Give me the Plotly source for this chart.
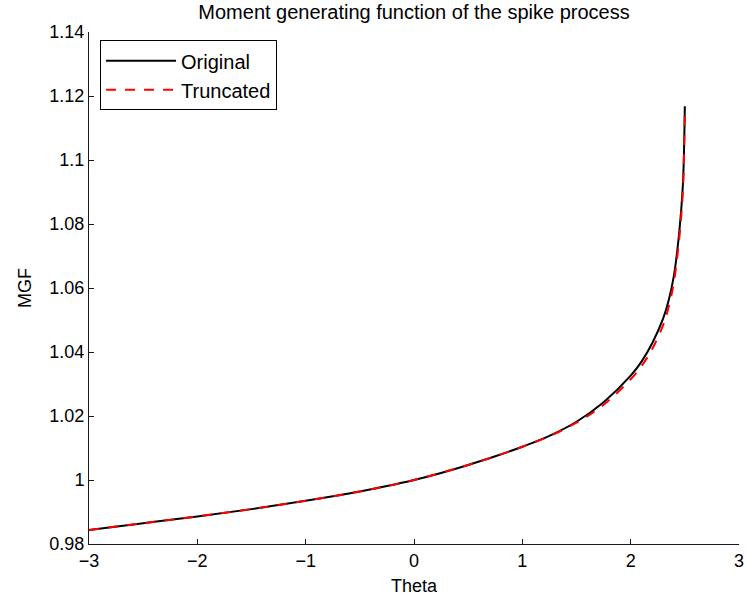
import plotly.graph_objects as go

theta = [-3, -2.5, -2, -1.5, -1, -0.5, -0.25, 0, 0.25, 0.5, 0.75, 1, 1.25, 1.5, 1.75, 2, 2.1, 2.2, 2.3, 2.35, 2.4, 2.45, 2.48, 2.49, 2.5]
mgf_original = [0.9844, 0.9865, 0.9886, 0.9909, 0.9935, 0.9964, 0.9981, 1.0000, 1.0022, 1.0047, 1.0074, 1.0104, 1.0138,
                1.0182, 1.0243, 1.0326, 1.0370, 1.0428, 1.0505, 1.0560, 1.0640, 1.0780, 1.0910, 1.0995, 1.1168]
mgf_truncated = [0.9844, 0.9865, 0.9886, 0.9909, 0.9935, 0.9964, 0.9981, 1.0000, 1.0022, 1.0047, 1.0074, 1.0104, 1.0137,
                 1.0179, 1.0235, 1.0315, 1.0356, 1.0410, 1.0485, 1.0540, 1.0620, 1.0760, 1.0890, 1.0980, 1.1160]

xticks = [-3, -2, -1, 0, 1, 2, 3]
xticklabels = ["\u22123", "\u22122", "\u22121", "0", "1", "2", "3"]
yticks = [0.98, 1.0, 1.02, 1.04, 1.06, 1.08, 1.1, 1.12, 1.14]
yticklabels = ["0.98", "1", "1.02", "1.04", "1.06", "1.08", "1.1", "1.12", "1.14"]

FONT = "Liberation Sans, Arial, Helvetica, sans-serif"
AX = "#1a1a1a"
W, H = 746, 601

fig = go.Figure()
fig.add_trace(go.Scatter(x=theta, y=mgf_original, mode="lines", name="Original",
                         line=dict(color="black", width=2, shape="spline", smoothing=1)))
fig.add_trace(go.Scatter(x=theta, y=mgf_truncated, mode="lines", name="Truncated",
                         line=dict(color="#ff0000", width=2, dash="10px,9px", shape="spline", smoothing=1)))

fig.update_layout(
    width=W, height=H,
    margin=dict(l=89, r=7, t=32, b=57),
    paper_bgcolor="white", plot_bgcolor="white",
    font=dict(family=FONT, size=18, color="black"),
    title=dict(text="Moment generating function of the spike process", x=0.5, xref="paper",
               y=1 - 12 / H, yref="container", yanchor="middle", xanchor="center",
               font=dict(family=FONT, size=20, color="black")),
    showlegend=True,
    legend=dict(x=0.017, y=0.984, xanchor="left", yanchor="top", bgcolor="white",
                bordercolor="black", borderwidth=1, font=dict(family=FONT, size=20, color="black"),
                tracegroupgap=0, itemwidth=70),
    xaxis=dict(range=[-3, 3], tickvals=xticks, ticktext=xticklabels, ticks="inside", ticklen=5,
               tickcolor=AX, showline=True, linecolor=AX, linewidth=1, showgrid=False, zeroline=False,
               mirror=False, automargin=False, ticklabeloverflow="allow",
               title=dict(text="Theta", standoff=9, font=dict(size=18)),
               tickfont=dict(size=18)),
    yaxis=dict(range=[0.98, 1.14], tickvals=yticks, ticktext=yticklabels, ticks="inside", ticklen=5,
               tickcolor=AX, showline=True, linecolor=AX, linewidth=1, showgrid=False, zeroline=False,
               mirror=False, automargin=False, ticklabeloverflow="allow",
               title=dict(text="MGF", standoff=13, font=dict(size=18)),
               tickfont=dict(size=18)),
)

fig.write_html("out.html", config={"displayModeBar": False},
               post_script="document.body.style.margin='0';")
